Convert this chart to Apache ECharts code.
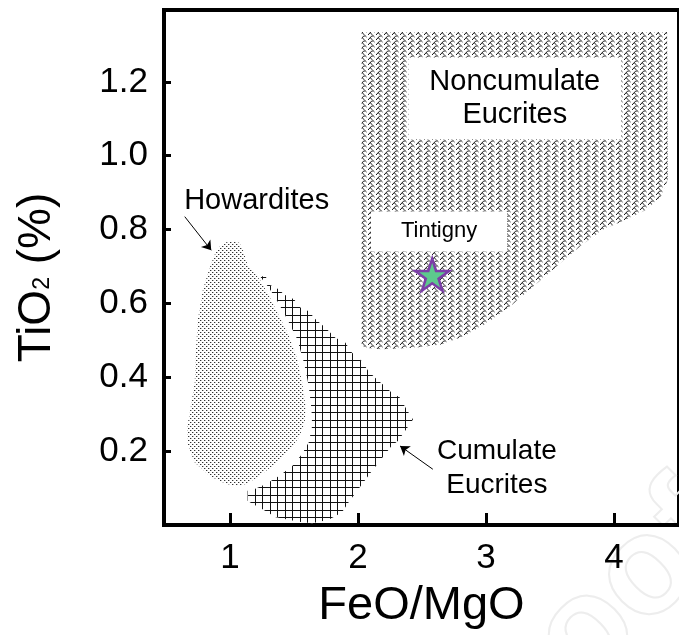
<!DOCTYPE html>
<html><head><meta charset="utf-8">
<script src="https://cdn.jsdelivr.net/npm/echarts@6/dist/echarts.min.js"></script>
<style>html,body{margin:0;padding:0;background:#fff}#c{width:679px;height:635px}</style>
</head><body><div id="c"></div>
<script>
// ---- data (FeO/MgO vs TiO2 %) ----
const xTickValues = [1, 2, 3, 4];
const yTickValues = [0.2, 0.4, 0.6, 0.8, 1.0, 1.2];

const howardites = [
  [1.022,0.768],[1.074,0.764],[1.105,0.741],[1.138,0.705],[1.190,0.683],[1.242,0.660],
  [1.306,0.620],[1.384,0.566],[1.461,0.512],[1.526,0.449],[1.564,0.386],[1.591,0.322],
  [1.585,0.278],[1.539,0.237],[1.448,0.196],[1.332,0.160],[1.216,0.129],[1.126,0.111],
  [1.060,0.106],[0.971,0.111],[0.841,0.133],[0.725,0.169],[0.673,0.214],[0.665,0.264],
  [0.691,0.314],[0.725,0.386],[0.733,0.467],[0.750,0.557],[0.789,0.638],[0.841,0.696],
  [0.880,0.732],[0.919,0.755],[0.971,0.766]
];
const cumulateEucrites = [
  [1.234,0.674],[1.281,0.672],[1.306,0.651],[1.384,0.638],[1.422,0.624],[1.500,0.611],
  [1.552,0.588],[1.616,0.579],[1.668,0.557],[1.746,0.534],[1.823,0.507],[1.901,0.494],
  [1.952,0.467],[2.029,0.444],[2.081,0.417],[2.146,0.395],[2.211,0.376],[2.262,0.359],
  [2.327,0.345],[2.378,0.314],[2.430,0.286],[2.405,0.273],[2.314,0.228],[2.262,0.214],
  [2.097,0.141],[1.926,0.061],[1.874,0.034],[1.771,0.014],[1.642,0.005],[1.539,0.009],
  [1.358,0.021],[1.229,0.048],[1.177,0.057],[1.138,0.066],[1.138,0.093],[1.177,0.095],
  [1.281,0.111],[1.384,0.133],[1.487,0.160],[1.564,0.192],[1.616,0.224],[1.642,0.268],
  [1.637,0.314],[1.616,0.376],[1.578,0.440],[1.526,0.503],[1.448,0.557],[1.371,0.606],
  [1.306,0.642],[1.254,0.665]
];
const noncumulateEucrites = [
  [2.029,1.335],[4.415,1.335],[4.420,0.935],[4.368,0.890],[4.252,0.854],[4.097,0.827],
  [3.916,0.800],[3.735,0.755],[3.554,0.701],[3.374,0.647],[3.192,0.593],[3.012,0.548],
  [2.831,0.512],[2.650,0.489],[2.443,0.480],[2.184,0.476],[2.056,0.480],[2.029,0.489]
];
const tintigny = [[2.58, 0.678]];

const labelTexts = ['Howardites', 'Noncumulate\nEucrites', 'Tintigny', 'Cumulate\nEucrites'];
const labelPositions = [[1.209, 0.878], [3.225, 1.155], [2.634, 0.795], [3.085, 0.154]];
const arrowFrom = [[0.647, 0.835], [2.585, 0.151]];
const arrowTo   = [[0.854, 0.744], [2.329, 0.214]];

// ---- styling ----
const FONT = "'Liberation Sans', Arial, Helvetica, sans-serif";

function makePattern(w, h, draw) {
  const c = document.createElement('canvas');
  c.width = w; c.height = h;
  const g = c.getContext('2d');
  g.fillStyle = '#fff'; g.fillRect(0, 0, w, h);
  draw(g);
  return { image: c, repeat: 'repeat' };
}
const stipple = makePattern(4, 4, g => {
  g.fillStyle = '#333';
  [[0,0],[2,2]].forEach(([x, y]) => g.fillRect(x, y, 1, 1));
  g.fillStyle = '#bbb';
  [[1,0],[3,2]].forEach(([x, y]) => g.fillRect(x, y, 1, 1));
});
const gridHatch = makePattern(15, 15, g => {
  g.fillStyle = '#111';
  g.fillRect(0, 0, 1, 15); g.fillRect(7, 0, 1, 15);
  g.fillRect(0, 0, 15, 1); g.fillRect(0, 7, 15, 1);
});
const curlHatch = makePattern(8, 5, g => {
  g.strokeStyle = '#111'; g.lineWidth = 1;
  g.beginPath();
  g.moveTo(0, 5); g.lineTo(3.5, 1.2); g.quadraticCurveTo(5.5, 0, 6.5, 2);
  g.moveTo(2.2, 2.8); g.lineTo(4.6, 5);
  g.stroke();
});

function polySeries(name, pts, fill) {
  return {
    type: 'custom', name, coordinateSystem: 'cartesian2d', data: pts,
    encode: { x: 0, y: 1 }, silent: true, z: 1,
    renderItem: (params, api) => {
      if (params.dataIndex !== 0) return null;
      return { type: 'polygon', shape: { points: pts.map(p => api.coord(p)) },
               style: { fill: fill, stroke: null } };
    }
  };
}

const labelStyles = [
  { fontSize: 29, lineHeight: 33 },
  { fontSize: 29, lineHeight: 33, backgroundColor: '#fff', padding: [8, 21] },
  { fontSize: 22, lineHeight: 26, backgroundColor: '#fff', padding: [7, 30] },
  { fontSize: 28, lineHeight: 34 }
];

const chart = echarts.init(document.getElementById('c'), null, { renderer: 'canvas' });
chart.setOption({
  animation: false,
  backgroundColor: '#fff',
  graphic: [{
    type: 'text', x: 760, y: 560, rotation: Math.PI / 4, z: 0, silent: true,
    style: { text: 'Proof', fill: 'none', stroke: '#ededed', lineWidth: 2,
             font: 'bold 140px ' + FONT, align: 'right', verticalAlign: 'bottom' }
  }],
  grid: { left: 164, top: 10, width: 519, height: 516, show: true, borderColor: '#000', borderWidth: 4, backgroundColor: 'transparent' },
  xAxis: {
    type: 'value', min: 0.485, max: 4.508,
    axisLine: { lineStyle: { color: '#000', width: 4 } },
    axisTick: { inside: true, length: 12, lineStyle: { color: '#000', width: 3 }, customValues: xTickValues },
    axisLabel: { color: '#000', fontSize: 35, fontFamily: FONT, margin: 16, customValues: xTickValues, formatter: v => String(v) },
    splitLine: { show: false },
    name: 'FeO/MgO', nameLocation: 'middle', nameGap: 58,
    nameTextStyle: { color: '#000', fontSize: 47, fontFamily: FONT }
  },
  yAxis: {
    type: 'value', min: 0, max: 1.3946,
    axisLine: { lineStyle: { color: '#000', width: 4 } },
    axisTick: { inside: true, length: 7, lineStyle: { color: '#000', width: 3 }, customValues: yTickValues },
    axisLabel: { color: '#000', fontSize: 35, fontFamily: FONT, margin: 16, customValues: yTickValues, formatter: v => v.toFixed(1) },
    splitLine: { show: false },
    name: '{a|TiO}{s|2}{a| (%)}', nameLocation: 'middle', nameRotate: 90, nameGap: 104,
    nameTextStyle: {
      color: '#000', fontSize: 46, fontFamily: FONT, padding: [0, 20, 0, 0],
      rich: {
        a: { fontSize: 46, fontFamily: FONT, color: '#000' },
        s: { fontSize: 23, fontFamily: FONT, color: '#000', padding: [12, 0, 0, 0] }
      }
    }
  },
  series: [
    polySeries('Noncumulate Eucrites', noncumulateEucrites, curlHatch),
    polySeries('Howardites', howardites, stipple),
    polySeries('Cumulate Eucrites', cumulateEucrites, gridHatch),
    {
      type: 'lines', coordinateSystem: 'cartesian2d', silent: true, z: 4,
      symbol: ['none', 'arrow'], symbolSize: 9,
      lineStyle: { color: '#000', width: 1, opacity: 1 },
      data: arrowFrom.map((p, i) => ({ coords: [p, arrowTo[i]] }))
    },
    {
      type: 'custom', coordinateSystem: 'cartesian2d', silent: true, z: 5,
      data: labelPositions, encode: { x: 0, y: 1 },
      renderItem: (params, api) => {
        const i = params.dataIndex;
        const p = api.coord(labelPositions[i]);
        const s = labelStyles[i];
        return {
          type: 'text', x: p[0], y: p[1],
          style: Object.assign({ text: labelTexts[i], fill: '#000', fontFamily: FONT,
            align: 'center', verticalAlign: 'middle' }, s)
        };
      }
    },
    {
      type: 'scatter', name: 'Tintigny', z: 6, silent: true,
      symbol: 'path://M50,0 L61,35 L98,35 L68,57 L79,91 L50,70 L21,91 L32,57 L2,35 L39,35 Z',
      symbolSize: [34, 32],
      itemStyle: { color: '#5dc98d', borderColor: '#7c3fa8', borderWidth: 2.5, opacity: 1 },
      data: tintigny
    }
  ]
});
</script>
</body></html>
